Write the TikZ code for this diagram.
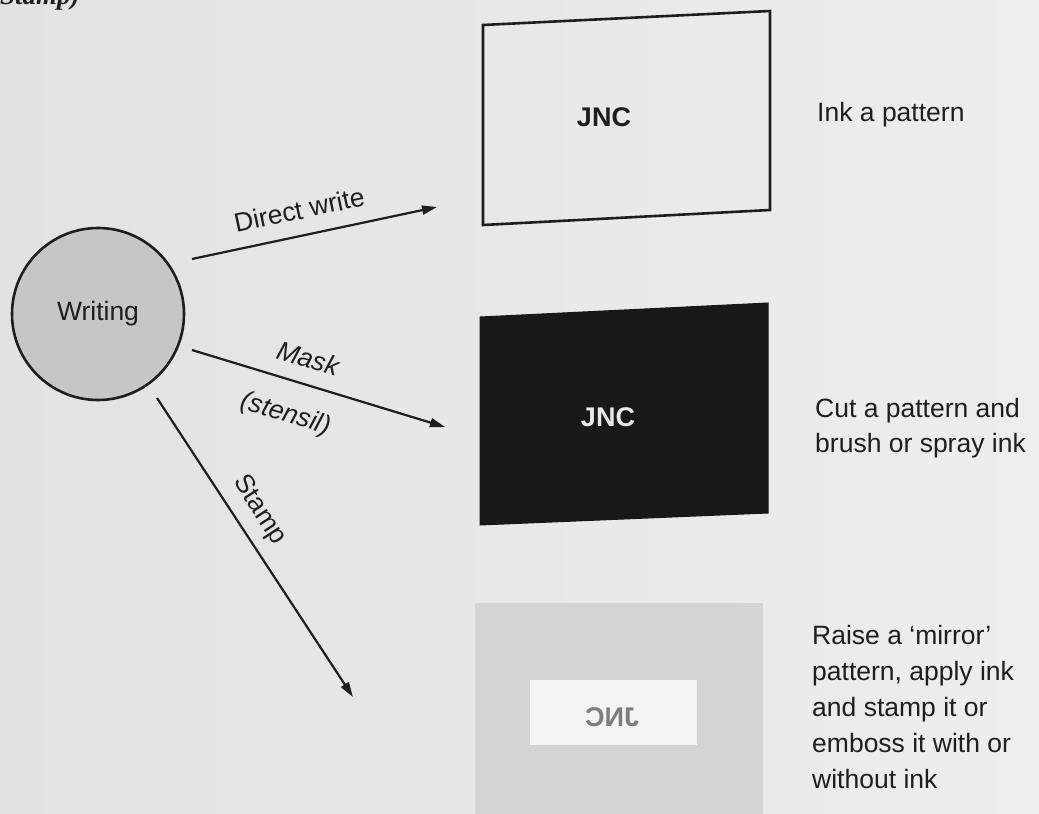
\documentclass[tikz,border=0pt]{standalone}
\usepackage{fontspec}
\setmainfont{Liberation Sans}
\newfontfamily\serifbi{Liberation Serif}
\usetikzlibrary{arrows.meta}
\definecolor{paperL}{RGB}{226,226,224}
\definecolor{paperR}{RGB}{238,238,236}
\definecolor{ink}{RGB}{30,30,30}
\definecolor{circfill}{RGB}{198,198,196}
\definecolor{boxblack}{RGB}{24,24,24}
\definecolor{jncwhite}{RGB}{232,232,232}
\definecolor{stampgray}{RGB}{212,212,210}
\definecolor{stampwhite}{RGB}{244,244,243}
\definecolor{mirrorink}{RGB}{125,125,125}
\begin{document}
\begin{tikzpicture}[x=1pt,y=-1pt,
  lbl/.style={inner sep=0pt, text=ink, font=\fontsize{26.5}{32}\selectfont},
  itlbl/.style={lbl, font=\itshape\fontsize{26.5}{32}\selectfont},
  jnc/.style={inner sep=0pt, font=\bfseries\fontsize{27}{32}\selectfont},
  arr/.style={draw=ink, line width=2.2pt, -{Triangle[length=15pt,width=9pt]}},
  frame/.style={draw=ink, line width=2.6pt, line join=miter},
]
\useasboundingbox (0,0) rectangle (1039,814);
\shade[left color=paperL, right color=paperR] (0,0) rectangle (1039,814);

% cut-off page text
\node[inner sep=0pt, anchor=base west, text=ink, font=\serifbi\bfseries\itshape\fontsize{27}{32}\selectfont] (pg) at (0,4) {Stamp)};

% Writing circle
\node[circle, draw=ink, line width=2.6pt, fill=circfill, minimum size=172pt, lbl] (w) at (98,314) {Writing};

% Box 1: ink a pattern
\draw[frame] (483,25) -- (770,11) -- (770,210) -- (483,225) -- cycle;
\node[jnc, text=ink] (j1) at (604,117) {JNC};
\node[lbl, anchor=base west] (t1) at (817,121) {Ink a pattern};

% Box 2: mask
\filldraw[fill=boxblack, draw=boxblack, line width=1pt] (480,317) -- (768,303) -- (768,513) -- (480,525) -- cycle;
\node[jnc, text=jncwhite] (j2) at (608,417) {JNC};
\node[lbl, anchor=north west, align=left, font=\fontsize{26.5}{35}\selectfont] (t2) at (815,398) {Cut a pattern and\\brush or spray ink};

% Box 3: stamp
\fill[stampgray] (475,603) rectangle (763,820);
\fill[stampwhite] (530,680) rectangle (697,745);
\node[jnc, text=mirrorink] (j3) at (612,717) {\scalebox{-1}[1]{JNC}};
\node[lbl, anchor=north west, align=left, font=\fontsize{26.5}{36}\selectfont] (t3) at (812,625) {Raise a ‘mirror’\\pattern, apply ink\\and stamp it or\\emboss it with or\\without ink};

% connectors
\coordinate (dwA) at (192,259);
\coordinate (dwB) at (437,207);
\coordinate (mA) at (192,350);
\coordinate (mB) at (445,427);
\coordinate (sA) at (157,398);
\coordinate (sB) at (353,697);

\draw[arr] (dwA) -- node[lbl, sloped, above=15pt, pos=0.46] (ldw) {Direct write} (dwB);
\draw[arr] (mA) -- node[itlbl, sloped, above=15pt, pos=0.43] (lm) {Mask}
                    node[itlbl, sloped, below=21pt, pos=0.41] (ls) {(stensil)} (mB);
\draw[arr] (sA) -- node[lbl, sloped, above=11pt, pos=0.42] (lst) {Stamp} (sB);
\end{tikzpicture}
\end{document}
